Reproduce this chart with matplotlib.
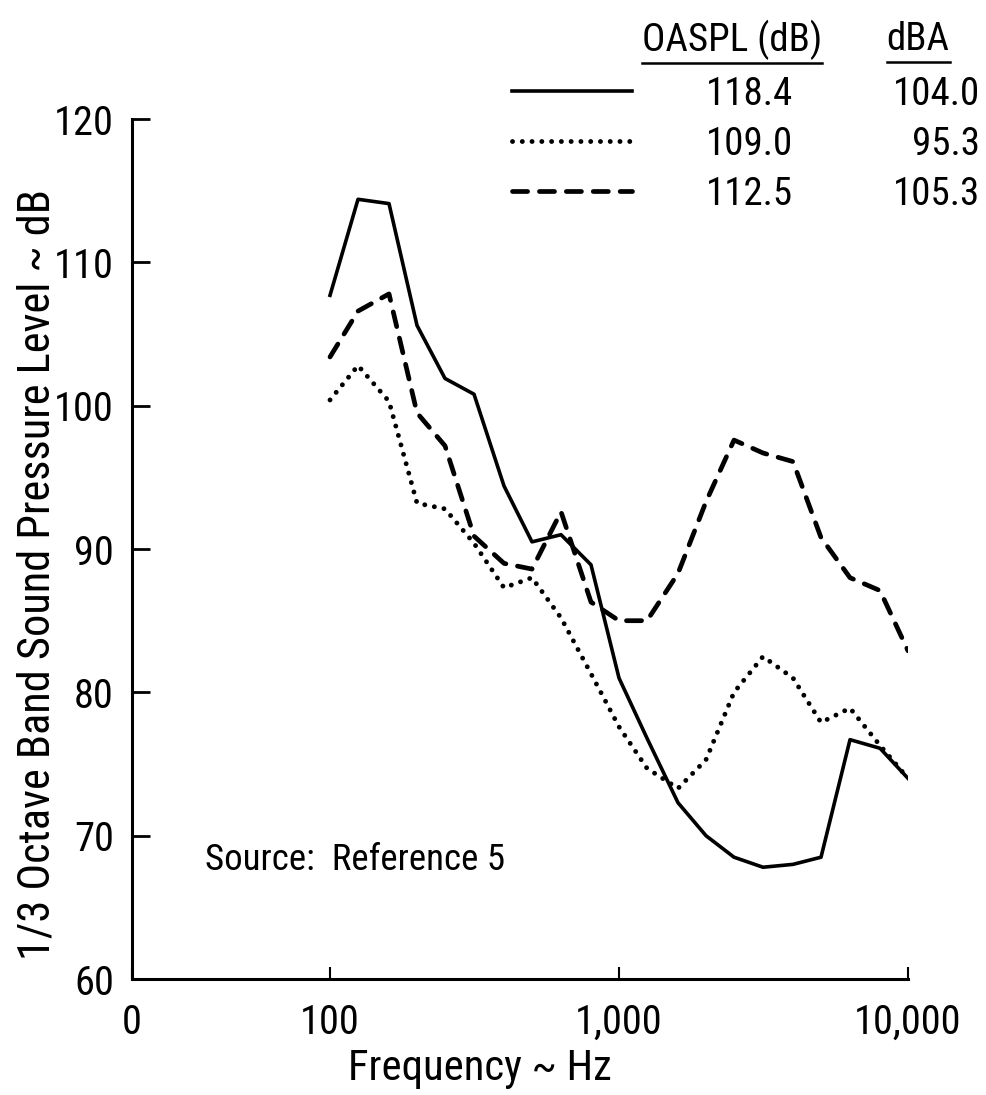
import matplotlib.pyplot as plt
from matplotlib import font_manager
from matplotlib.lines import Line2D

# 1/3 octave band centre frequencies (Hz)
freq = [100, 125, 160, 200, 250, 315, 400, 500, 630, 800, 1000, 1250,
        1600, 2000, 2500, 3150, 4000, 5000, 6300, 8000, 10000]

spl_solid = [107.7, 114.4, 114.1, 105.6, 101.9, 100.8, 94.4, 90.5, 91.0, 88.9, 81.0, 76.8,
             72.3, 70.0, 68.5, 67.8, 68.0, 68.5, 76.7, 76.1, 74.0]
spl_dotted = [100.4, 102.8, 100.3, 93.2, 92.8, 90.4, 87.3, 88.0, 85.2, 81.3, 77.6, 74.7,
              73.3, 75.3, 80.0, 82.5, 81.0, 77.9, 78.9, 76.3, 74.0]
spl_dashed = [103.4, 106.6, 107.8, 99.5, 97.2, 90.9, 89.0, 88.6, 92.6, 86.3, 85.0, 85.0,
              88.3, 93.3, 97.6, 96.7, 96.1, 90.8, 88.0, 87.1, 82.9]

oaspl = ['118.4', '109.0', '112.5']
dba = ['104.0', '95.3', '105.3']

x_left = 20.65
xtick_vals = [x_left, 100, 1000, 10000]
xtick_labels = ['0', '100', '1,000', '10,000']
yticks = [60, 70, 80, 90, 100, 110, 120]

# look for a narrow sans face, the original lettering is condensed
fonts = [(f.name, f.stretch) for f in font_manager.fontManager.ttflist]
names = {n for n, s in fonts}
family, stretch, scale = 'DejaVu Sans', 'normal', 0.86
for name in ['Liberation Sans Narrow', 'Roboto Condensed', 'Open Sans Condensed']:
    if name in names:
        family, stretch, scale = name, 'normal', 1.0
        break
else:
    for n, s in fonts:
        if n in ('DejaVu Sans', 'Roboto', 'Noto Sans', 'Open Sans') and s in ('condensed', 'semi-condensed'):
            family, stretch, scale = n, s, 1.0
            break

plt.rcParams['font.family'] = [family, 'DejaVu Sans']
plt.rcParams['font.stretch'] = stretch
fs = 28 * scale

fig = plt.figure(figsize=(9.86, 10.95), dpi=100)
ax = fig.add_axes([0.1339, 0.1059, 0.787, 0.7854])

l1, = ax.plot(freq, spl_solid, color='black', lw=2.6, solid_joinstyle='round')
l2, = ax.plot(freq, spl_dotted, color='black', lw=3.5, linestyle=(0, (0.01, 2.0)),
              dash_capstyle='round')
l3, = ax.plot(freq, spl_dashed, color='black', lw=3.4, linestyle=(0, (3.2, 2.5)),
              dash_capstyle='round')

ax.set_xscale('log')
ax.set_xlim(x_left, 10000)
ax.set_ylim(60, 120)
ax.set_xticks(xtick_vals, xtick_labels)
ax.set_yticks(yticks)
ax.minorticks_off()

for s in ['top', 'right']:
    ax.spines[s].set_visible(False)
ax.spines['left'].set_linewidth(2.2)
ax.spines['bottom'].set_linewidth(2.2)
ax.tick_params(axis='y', direction='in', length=13, width=2, labelsize=fs * 1.04, pad=13)
ax.tick_params(axis='x', direction='in', length=9, width=1.5, labelsize=fs * 1.04, pad=17)

ax.set_ylabel('1/3 Octave Band Sound Pressure Level ~ dB', fontsize=fs * 1.14)
ax.yaxis.set_label_coords(-0.095, 0.47)
ax.set_xlabel('Frequency ~ Hz', fontsize=fs * 1.1)
ax.xaxis.set_label_coords(0.448, -0.080)

ax.text(36.9, 68.3, 'Source:  Reference 5', fontsize=fs * 0.95, va='center')

leg = fig.legend(handles=[l1, l2, l3], labels=oaspl, loc='upper left',
                 bbox_to_anchor=(0.519, 0.9305), frameon=False, borderpad=0,
                 borderaxespad=0, handlelength=3.1 * 28 / fs, handletextpad=1.9 * 28 / fs,
                 labelspacing=0.33, prop={'size': fs})

fig.canvas.draw()
W, H = fig.canvas.get_width_height()
for t, d in zip(leg.get_texts(), dba):
    bb = t.get_window_extent()
    fig.text(980 / W, (bb.y0 + bb.y1) / 2 / H, d, fontsize=fs, ha='right', va='center')

h1 = fig.text(732 / W, 1 - 40 / H, 'OASPL (dB)', fontsize=fs, ha='center', va='center')
h2 = fig.text(918 / W, 1 - 40 / H, 'dBA', fontsize=fs, ha='center', va='center')
fig.canvas.draw()
for h in [h1, h2]:
    bb = h.get_window_extent()
    fig.add_artist(Line2D([bb.x0 / W, bb.x1 / W], [(bb.y0 - 3) / H, (bb.y0 - 3) / H],
                          color='black', lw=1.8, transform=fig.transFigure))

fig.savefig('out.png', dpi=100)
